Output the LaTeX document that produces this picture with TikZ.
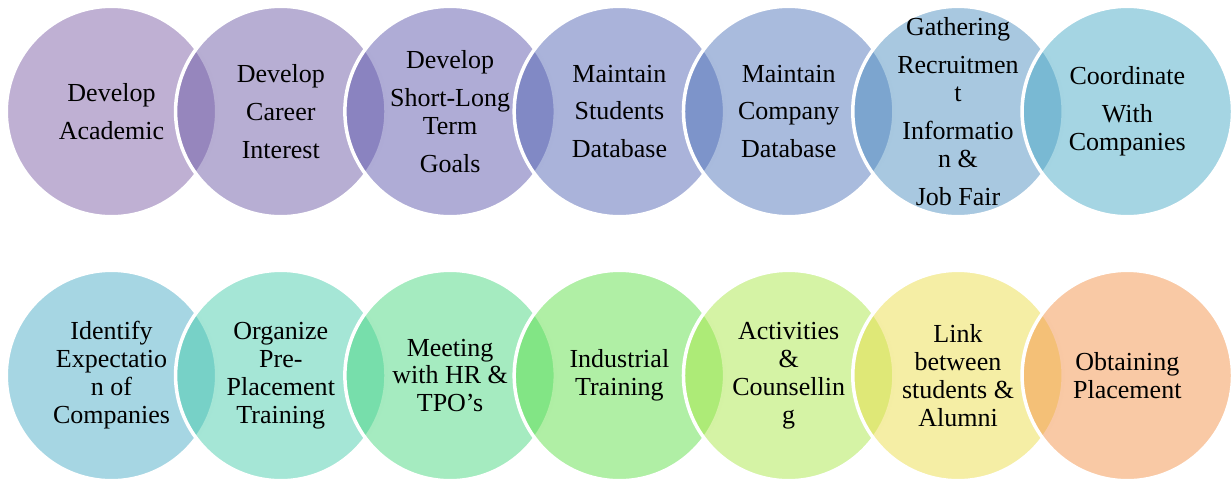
\documentclass[tikz,border=0pt]{standalone}
\usepackage{fontspec}
\setmainfont{Liberation Serif}
\usepackage{tikz}
\usetikzlibrary{positioning}

% circle colours (drawn at half opacity)
\definecolor{ca}{RGB}{127,97,167}
\definecolor{cb}{RGB}{111,93,167}
\definecolor{cc}{RGB}{95,89,173}
\definecolor{cd}{RGB}{85,103,181}
\definecolor{ce}{RGB}{83,119,187}
\definecolor{cf}{RGB}{81,145,193}
\definecolor{cg}{RGB}{75,171,199}
\definecolor{da}{RGB}{77,173,199}
\definecolor{db}{RGB}{75,205,173}
\definecolor{dc}{RGB}{75,215,129}
\definecolor{dd}{RGB}{97,223,75}
\definecolor{de}{RGB}{171,231,75}
\definecolor{df}{RGB}{235,221,75}
\definecolor{dg}{RGB}{243,147,75}

\tikzset{
  venn/.style={circle, minimum size=4.21cm, inner sep=0pt, draw=white,
    line width=0.07cm, fill=#1, fill opacity=0.5},
  lbl/.style={align=center, inner sep=0pt,
    font=\fontsize{14.8pt}{15.9pt}\selectfont}
}

\begin{document}
\begin{tikzpicture}[x=0.02cm, y=-0.02cm]
  \useasboundingbox (0,0) rectangle (1231,478);
  % top row
  \node[venn=ca] (c11) at (111.5,111.5) {};
  \node[venn=cb] (c12) at (280.8,111.5) {};
  \node[venn=cc] (c13) at (450.1,111.5) {};
  \node[venn=cd] (c14) at (619.4,111.5) {};
  \node[venn=ce] (c15) at (788.7,111.5) {};
  \node[venn=cf] (c16) at (958.0,111.5) {};
  \node[venn=cg] (c17) at (1127.3,111.5) {};
  % bottom row
  \node[venn=da] (c21) at (111.5,375.5) {};
  \node[venn=db] (c22) at (280.8,375.5) {};
  \node[venn=dc] (c23) at (450.1,375.5) {};
  \node[venn=dd] (c24) at (619.4,375.5) {};
  \node[venn=de] (c25) at (788.7,375.5) {};
  \node[venn=df] (c26) at (958.0,375.5) {};
  \node[venn=dg] (c27) at (1127.3,375.5) {};

  \node[lbl] (t11) at (c11) {Develop\\[2mm]Academic};
  \node[lbl] (t12) at (c12) {Develop\\[2mm]Career\\[2mm]Interest};
  \node[lbl] (t13) at (c13) {Develop\\[2mm]Short-Long\\Term\\[2mm]Goals};
  \node[lbl] (t14) at (c14) {Maintain\\[2mm]Students\\[2mm]Database};
  \node[lbl] (t15) at (c15) {Maintain\\[2mm]Company\\[2mm]Database};
  \node[lbl] (t16) at (c16) {Gathering\\[2mm]Recruitmen\\t\\[2mm]Informatio\\n \&\\[2mm]Job Fair};
  \node[lbl] (t17) at (c17) {Coordinate\\[2mm]With\\Companies};

  \node[lbl] (t21) at (c21) {Identify\\Expectatio\\n of\\Companies};
  \node[lbl] (t22) at (c22) {Organize\\Pre-\\Placement\\Training};
  \node[lbl] (t23) at (c23) {Meeting\\with HR \&\\TPO’s};
  \node[lbl] (t24) at (c24) {Industrial\\Training};
  \node[lbl] (t25) at (c25) {Activities\\\&\\Counsellin\\g};
  \node[lbl] (t26) at (c26) {Link\\between\\students \&\\Alumni};
  \node[lbl] (t27) at (c27) {Obtaining\\Placement};
\end{tikzpicture}
\end{document}
